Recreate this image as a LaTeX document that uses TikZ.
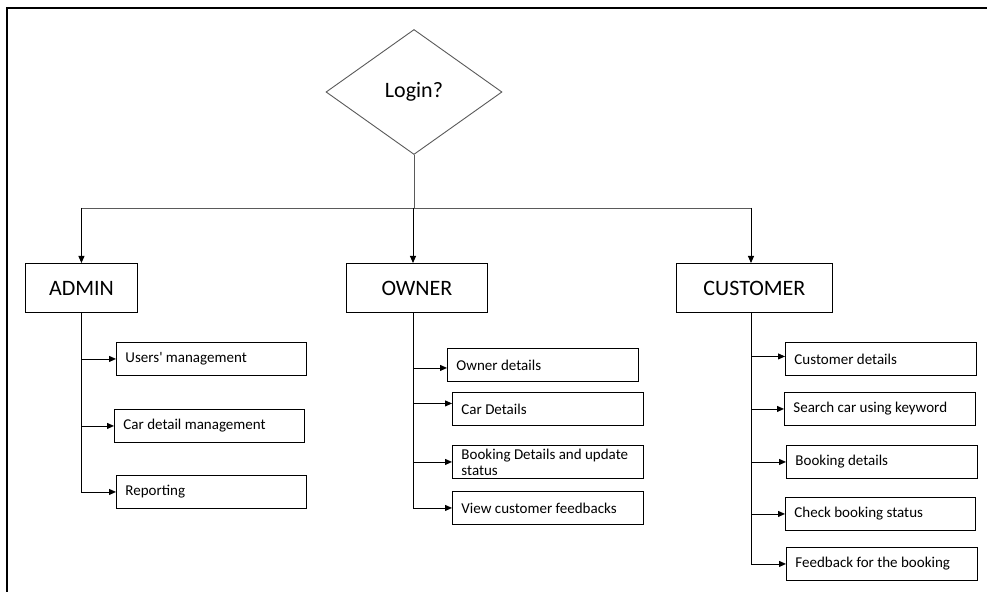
\documentclass[tikz,border=0pt]{standalone}
\usepackage{fontspec}
\setmainfont{Carlito}
\usetikzlibrary{shapes.geometric,arrows.meta}
\definecolor{ln}{HTML}{5A5A5A}
\tikzset{
  subbox/.style={draw, line width=0.9bp, anchor=north west, minimum width=190bp, minimum height=33bp,
    text width=172bp, inner xsep=9bp, inner ysep=2bp, align=flush left, font=\fontsize{15bp}{17bp}\selectfont},
  mainbox/.style={draw, line width=0.9bp, anchor=north west, minimum height=49bp, inner sep=0pt,
    font=\fontsize{22bp}{24bp}\selectfont},
  conn/.style={line width=0.9bp, -{Triangle[length=7bp,width=6bp]}},
  trunk/.style={line width=0.9bp},
  gline/.style={line width=0.9bp, draw=ln},
}
\begin{document}
\begin{tikzpicture}[x=1bp,y=-1bp]
\useasboundingbox (0,0) rectangle (987,592);
\fill[white] (0,0) rectangle (987,592);
\draw[line width=2bp] (7,592) -- (7,8) -- (987,8);

\node[diamond, draw=ln, line width=0.9bp, minimum width=176bp, minimum height=125bp, inner sep=0pt,
  font=\fontsize{22bp}{24bp}\selectfont] (login) at (414,92) {Login?};

\node[mainbox, minimum width=112bp] (admin) at (25,263) {ADMIN};
\node[mainbox, minimum width=141bp] (owner) at (346,263) {OWNER};
\node[mainbox, minimum width=156bp] (customer) at (676,263) {CUSTOMER};

\coordinate (bus) at (414,208);
\coordinate (ot) at (413,312);
\coordinate (ct) at (751,312);

\draw[gline] (login.south) -- (bus);
\draw[gline] (admin.north |- bus) -- (ct |- bus);
\draw[conn] (admin.north |- bus) -- (admin.north);
\draw[conn] (ot |- bus) -- (ot |- owner.north);
\draw[conn] (ct |- bus) -- (ct |- customer.north);

% ADMIN children
\node[subbox] (um) at (116,342) {Users\textquotesingle{} management};
\node[subbox] (cm) at (114,409) {Car detail management};
\node[subbox] (rp) at (116,475) {Reporting};
\draw[trunk] (admin.south) -- (admin.south |- rp.west);
\draw[conn] (admin.south |- um.west) -- (um.west);
\draw[conn] (admin.south |- cm.west) -- (cm.west);
\draw[conn] (admin.south |- rp.west) -- (rp.west);

% OWNER children
\node[subbox, minimum width=191bp, text width=173bp] (od) at (447,348) {Owner details};
\node[subbox, minimum width=191bp, text width=173bp] (cd) at (452,392) {Car Details};
\node[subbox, minimum width=191bp, text width=173bp, inner ysep=0pt, font=\fontsize{15bp}{16bp}\selectfont] (bd) at (452,445) {Booking Details and update\\status};
\node[subbox, minimum width=191bp, text width=173bp] (vf) at (452,491) {View customer feedbacks};
\draw[trunk] (ot) -- (ot |- vf.west);
\draw[conn] ([yshift=-3bp]ot |- od.west) -- ([yshift=-3bp]od.west);
\draw[conn] ([yshift=5.5bp]ot |- cd.west) -- ([yshift=5.5bp]cd.west);
\draw[conn] (ot |- bd.west) -- (bd.west);
\draw[conn] (ot |- vf.west) -- (vf.west);

% CUSTOMER children
\node[subbox, minimum width=191bp, text width=173bp] (cu) at (785,342) {Customer details};
\node[subbox, minimum width=191bp, text width=173bp] (sc) at (784,392) {Search car using keyword};
\node[subbox, minimum width=191bp, text width=173bp] (bk) at (786,445) {Booking details};
\node[subbox, minimum width=190bp, text width=172bp] (cb) at (785,497) {Check booking status};
\node[subbox, minimum width=191bp, text width=173bp] (fb) at (786,547) {Feedback for the booking};
\draw[trunk] (ct) -- (ct |- fb.west);
\draw[conn] ([yshift=2.5bp]ct |- cu.west) -- ([yshift=2.5bp]cu.west);
\draw[conn] (ct |- sc.west) -- (sc.west);
\draw[conn] (ct |- bk.west) -- (bk.west);
\draw[conn] (ct |- cb.west) -- (cb.west);
\draw[conn] (ct |- fb.west) -- (fb.west);
\end{tikzpicture}
\end{document}
